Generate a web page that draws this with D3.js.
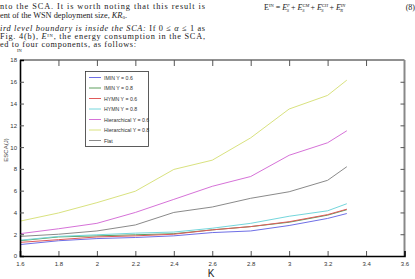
<!DOCTYPE html>
<html><head><meta charset="utf-8">
<script src="https://cdn.jsdelivr.net/npm/d3@7"></script>
<style>
html,body{margin:0;padding:0;background:#fff;}
svg{display:block;}
</style></head>
<body>
<svg id="c" width="415" height="279"></svg>
<script>
const kValues = [1.6,1.8,2.0,2.2,2.4,2.6,2.8,3.0,3.2,3.3];
const seriesNames = ["IMIN Y = 0.6","IMIN Y = 0.8","HYMN Y = 0.6","HYMN Y = 0.8","Hierarchical Y = 0.6","Hierarchical Y = 0.8","Flat"];
const iminY06  = [1.05,1.4,1.6,1.7,1.85,2.15,2.3,2.8,3.45,3.9];
const iminY08  = [1.4,1.75,1.85,1.95,2.05,2.4,2.7,3.1,3.75,4.25];
const hymnY06  = [1.25,1.5,1.75,1.85,2.0,2.4,2.7,3.15,3.8,4.3];
const hymnY08  = [1.45,1.8,1.95,2.1,2.2,2.55,3.0,3.65,4.15,4.8];
const hierY06  = [2.05,2.5,3.0,4.0,5.2,6.4,7.3,9.25,10.4,11.5];
const hierY08  = [3.2,3.95,4.9,5.95,7.95,8.8,10.85,13.5,14.75,16.15];
const flat     = [1.8,2.0,2.3,2.85,4.0,4.5,5.3,5.9,6.95,8.2];
const seriesColors = ["#6f6fe6","#5f9f5f","#e05a5a","#74d6dc","#d672d8","#d9e27f","#8a8a8a"];
const xTicks = [1.6,1.8,2,2.2,2.4,2.6,2.8,3,3.2,3.4,3.6];
const yTicks = [0,2,4,6,8,10,12,14,16,18];
const allSeries = [iminY06,iminY08,hymnY06,hymnY08,hierY06,hierY08,flat];

const svg = d3.select("#c");
const L=20,R=404.5,T=60,B=256;
const x = d3.scaleLinear().domain([1.6,3.6]).range([L,R]);
const y = d3.scaleLinear().domain([0,18]).range([B,T]);

// surrounding paper text
const serif = "'Liberation Serif','DejaVu Serif',serif";
const para = svg.append("g").attr("font-family",serif).attr("font-size","8.3px").attr("fill","#222");
para.append("text").attr("x",0).attr("y",9).attr("textLength",205).attr("lengthAdjust","spacing").text("nto the SCA. It is worth noting that this result is");
para.append("text").attr("x",0).attr("y",17.5).attr("textLength",127).attr("lengthAdjust","spacing").html("ent of the WSN deployment size, <tspan font-style='italic'>KR</tspan><tspan font-size='5px' dy='1.5'>0</tspan><tspan dy='-1.5'>.</tspan>");
para.append("text").attr("x",0).attr("y",30.5).attr("textLength",205).attr("lengthAdjust","spacing").html("<tspan font-style='italic'>ird level boundary is inside the SCA:</tspan> If 0 ≤ <tspan font-style='italic'>α</tspan> ≤ 1 as");
para.append("text").attr("x",0).attr("y",38.5).attr("textLength",205).attr("lengthAdjust","spacing").html("Fig. 4(b), <tspan font-style='italic'>E</tspan><tspan font-size='4.5px' dy='-2'>IN</tspan><tspan dy='2'>, the energy consumption in the SCA,</tspan>");
para.append("text").attr("x",0).attr("y",46.5).attr("textLength",136).attr("lengthAdjust","spacing").text("ed to four components, as follows:");
para.append("text").attr("x",17).attr("y",51.5).attr("font-size","4.5px").text("IN");
const eq = svg.append("text").attr("font-family",serif).attr("font-size","8px").attr("fill","#222").attr("x",264).attr("y",10);
eq.html("E<tspan font-size='4.5px' dy='-3'>IN</tspan><tspan dy='3'> = </tspan><tspan font-style='italic'>E</tspan><tspan font-size='4.5px' dy='-3' font-style='italic'>P</tspan><tspan font-size='4.5px' dx='-3' dy='5' font-style='italic'>S</tspan><tspan dy='-2'> + </tspan><tspan font-style='italic'>E</tspan><tspan font-size='4.5px' dy='-3' font-style='italic'>CM</tspan><tspan font-size='4.5px' dx='-7' dy='5' font-style='italic'>S</tspan><tspan dx='4' dy='-2'> + </tspan><tspan font-style='italic'>E</tspan><tspan font-size='4.5px' dy='-3' font-style='italic'>CH</tspan><tspan font-size='4.5px' dx='-7' dy='5' font-style='italic'>S</tspan><tspan dx='4' dy='-2'> + </tspan><tspan font-style='italic'>E</tspan><tspan font-size='4.5px' dy='-3' font-style='italic'>IN</tspan><tspan font-size='4.5px' dx='-5' dy='5' font-style='italic'>R</tspan>");
svg.append("text").attr("font-family",serif).attr("font-size","8px").attr("fill","#222").attr("x",415).attr("y",10).attr("text-anchor","end").text("(8)");

// lines
const line = d3.line().x((d,i)=>x(kValues[i])).y(d=>y(d));
allSeries.forEach((s,i)=>{
  svg.append("path").datum(s).attr("d",line).attr("fill","none")
     .attr("stroke",seriesColors[i]).attr("stroke-width",1);
});

// frame
const sans = "'Liberation Sans','DejaVu Sans',sans-serif";
svg.append("line").attr("x1",L).attr("x2",R).attr("y1",T).attr("y2",T).attr("stroke","#222").attr("stroke-width",1);
svg.append("line").attr("x1",R).attr("x2",R).attr("y1",T).attr("y2",B).attr("stroke","#888").attr("stroke-width",2);

const xAx = svg.append("g").attr("transform",`translate(0,${B})`)
  .call(d3.axisBottom(x).tickValues(xTicks).tickSize(-5).tickPadding(6).tickFormat(d=>d3.format("")(d)));
const yAx = svg.append("g").attr("transform",`translate(${L},0)`)
  .call(d3.axisLeft(y).tickValues(yTicks).tickSize(-4).tickPadding(3));
const xTop = svg.append("g").attr("transform",`translate(0,${T})`)
  .call(d3.axisTop(x).tickValues(xTicks.slice(1,-1)).tickSize(-6).tickFormat(""));
const yRight = svg.append("g").attr("transform",`translate(${R},0)`)
  .call(d3.axisRight(y).tickValues(yTicks.slice(1,-1)).tickSize(-4).tickFormat(""));
[xAx,yAx].forEach(g=>{
  g.select(".domain").attr("stroke","#000").attr("stroke-width",1.6);
  g.selectAll(".tick text").attr("font-family",sans).attr("font-size","6px").attr("fill","#333");
});
xAx.selectAll(".tick line").attr("stroke","#555");
yAx.selectAll(".tick line").attr("stroke","#555");
[xTop,yRight].forEach(g=>{g.select(".domain").remove(); g.selectAll(".tick line").attr("stroke","#555");});
xAx.selectAll(".tick").filter(d=>d===1.6||d===3.6).select("line").remove();
yAx.selectAll(".tick").filter(d=>d===0||d===18).select("line").remove();

// axis labels
svg.append("text").attr("x",211).attr("y",277).attr("font-family",sans).attr("font-size","10px").attr("fill","#222").attr("text-anchor","middle").text("K");
svg.append("text").attr("transform","translate(8,150) rotate(-90)").attr("font-family",sans).attr("font-size","6px").attr("fill","#444").attr("text-anchor","middle").text("ESCA(J)");

// legend
const lg = svg.append("g");
lg.append("rect").attr("x",85.5).attr("y",71.5).attr("width",63).attr("height",75).attr("fill","#fff").attr("stroke","#333").attr("stroke-width",0.8);
seriesNames.forEach((n,i)=>{
  const yy = 77.5 + i*10.5;
  lg.append("line").attr("x1",89).attr("x2",101).attr("y1",yy).attr("y2",yy).attr("stroke",seriesColors[i]).attr("stroke-width",1);
  lg.append("text").attr("x",104).attr("y",yy+2).attr("font-family",sans).attr("font-size","5.2px").attr("fill","#333").text(n);
});
</script>
</body></html>
